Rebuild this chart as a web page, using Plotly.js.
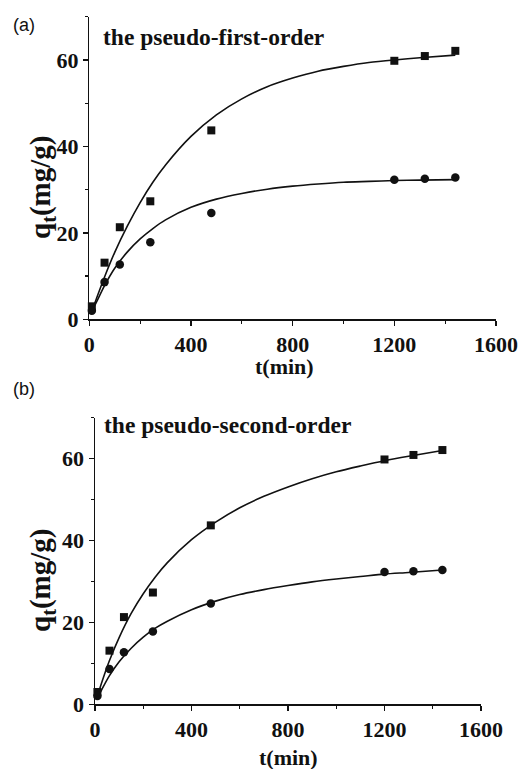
<!DOCTYPE html>
<html>
<head>
<meta charset="utf-8">
<script src="https://cdn.plot.ly/plotly-3.0.1.min.js"></script>
<style>html,body{margin:0;padding:0;background:#fff;}#chart{width:522px;height:769px;}</style>
</head>
<body>
<div id="chart"></div>
<script>
// Experimental data (same in both panels)
const tData = [10, 60, 120, 240, 480, 1200, 1320, 1440];
const qSquare = [3.0, 13.1, 21.3, 27.3, 43.7, 59.8, 60.9, 62.1];
const qCircle = [2.0, 8.6, 12.7, 17.8, 24.6, 32.3, 32.5, 32.8];

// Fitted curves
const tFit = [10, 30, 60, 100, 150, 200, 250, 300, 400, 500, 600, 700, 800, 900, 1000, 1100, 1200, 1300, 1440];
const pfoSquare = [1.8, 5.1, 9.8, 15.5, 21.6, 27.0, 31.7, 35.7, 42.3, 47.3, 51.0, 53.8, 55.8, 57.4, 58.5, 59.4, 60.0, 60.5, 61.1];
const pfoCircle = [1.8, 4.2, 7.8, 11.8, 15.6, 18.6, 21.0, 23.0, 25.9, 27.8, 29.1, 30.1, 30.8, 31.3, 31.7, 31.9, 32.1, 32.2, 32.3];
const psoSquare = [2.0, 5.7, 10.7, 16.3, 22.2, 27.0, 31.1, 34.6, 40.2, 44.5, 48.0, 50.8, 53.1, 55.1, 56.8, 58.2, 59.5, 60.6, 62.0];
const psoCircle = [1.4, 3.8, 7.0, 10.4, 13.7, 16.4, 18.6, 20.3, 23.1, 25.2, 26.8, 28.0, 29.0, 29.9, 30.6, 31.2, 31.8, 32.2, 32.8];

const xTicks = [0, 400, 800, 1200, 1600];
const yTicks = [0, 20, 40, 60];
const panelLabels = ['(a)', '(b)'];
const panelTitles = ['the pseudo-first-order', 'the pseudo-second-order'];
const xTitle = 't(min)';
const yTitle = 'q<sub>t</sub>(mg/g)';

const W = 522, H = 769;
const px = v => v / W;
const py = v => 1 - v / H;

const serif = 'Liberation Serif';

function curve(x, y, xa, ya) {
  return {x: x, y: y, xaxis: xa, yaxis: ya, mode: 'lines', type: 'scatter',
    line: {color: '#111', width: 1.6, shape: 'spline', smoothing: 0.8}, hoverinfo: 'skip', showlegend: false};
}
function pts(x, y, sym, xa, ya) {
  return {x: x, y: y, xaxis: xa, yaxis: ya, mode: 'markers', type: 'scatter', cliponaxis: false,
    marker: {symbol: sym, size: sym === 'square' ? 8 : 8.5, color: '#111'}, showlegend: false};
}

const traces = [
  curve(tFit, pfoSquare, 'x', 'y'),
  curve(tFit, pfoCircle, 'x', 'y'),
  pts(tData, qSquare, 'square', 'x', 'y'),
  pts(tData, qCircle, 'circle', 'x', 'y'),
  curve(tFit, psoSquare, 'x2', 'y2'),
  curve(tFit, psoCircle, 'x2', 'y2'),
  pts(tData, qSquare, 'square', 'x2', 'y2'),
  pts(tData, qCircle, 'circle', 'x2', 'y2')
];

const tickFont = {family: serif, size: 22, color: '#111', weight: 'bold'};

function xax(domain, anchor) {
  return {domain: domain, anchor: anchor, range: [0, 1600], tickvals: xTicks, ticktext: xTicks.map(String),
    showline: true, linecolor: '#111', linewidth: 1.5, ticks: 'outside', ticklen: 5, tickwidth: 1.5, tickcolor: '#111',
    minor: {ticks: 'outside', ticklen: 3, tickwidth: 1.2, tickcolor: '#111', dtick: 200, tick0: 0},
    showgrid: false, zeroline: false, fixedrange: true, ticklabelstandoff: 0,
    tickfont: tickFont};
}
function yax(domain, anchor) {
  return {domain: domain, anchor: anchor, range: [0, 70], tickvals: yTicks, ticktext: yTicks.map(String),
    showline: true, linecolor: '#111', linewidth: 1.5, ticks: 'outside', ticklen: 5, tickwidth: 1.5, tickcolor: '#111',
    minor: {ticks: 'outside', ticklen: 3, tickwidth: 1.2, tickcolor: '#111', dtick: 10, tick0: 0},
    showgrid: false, zeroline: false, fixedrange: true,
    tickfont: tickFont};
}

const ann = [];
function addAnn(text, x, y, opts) {
  ann.push(Object.assign({text: text, x: px(x), y: py(y), xref: 'paper', yref: 'paper', showarrow: false,
    xanchor: 'center', yanchor: 'middle'}, opts));
}
const sans = {family: 'Liberation Sans', size: 18, color: '#111'};
addAnn(panelLabels[0], 24, 25, {font: sans});
addAnn(panelLabels[1], 24, 389, {font: sans});
addAnn(panelTitles[0], 101, 37, {xanchor: 'left', font: {family: serif, size: 23.5, color: '#111', weight: 'bold'}});
addAnn(panelTitles[1], 102, 425, {xanchor: 'left', font: {family: serif, size: 23.5, color: '#111', weight: 'bold'}});
addAnn(xTitle, 284, 366, {font: {family: serif, size: 22, color: '#111', weight: 'bold'}});
addAnn(xTitle, 288, 757, {font: {family: serif, size: 22, color: '#111', weight: 'bold'}});
addAnn(yTitle, 42, 188, {textangle: -90, font: {family: serif, size: 29, color: '#111', weight: 'bold'}});
addAnn(yTitle, 42, 581, {textangle: -90, font: {family: serif, size: 29, color: '#111', weight: 'bold'}});

const layout = {
  width: W, height: H,
  margin: {l: 0, r: 0, t: 0, b: 0},
  paper_bgcolor: '#fff', plot_bgcolor: '#fff',
  showlegend: false,
  xaxis: xax([89.3 / W, 496 / W], 'y'),
  yaxis: yax([py(319.3), py(16.7)], 'x'),
  xaxis2: xax([95 / W, 481 / W], 'y2'),
  yaxis2: yax([py(704.3), py(417.7)], 'x2'),
  annotations: ann
};

Plotly.newPlot('chart', traces, layout, {displayModeBar: false, staticPlot: true});
</script>
</body>
</html>
